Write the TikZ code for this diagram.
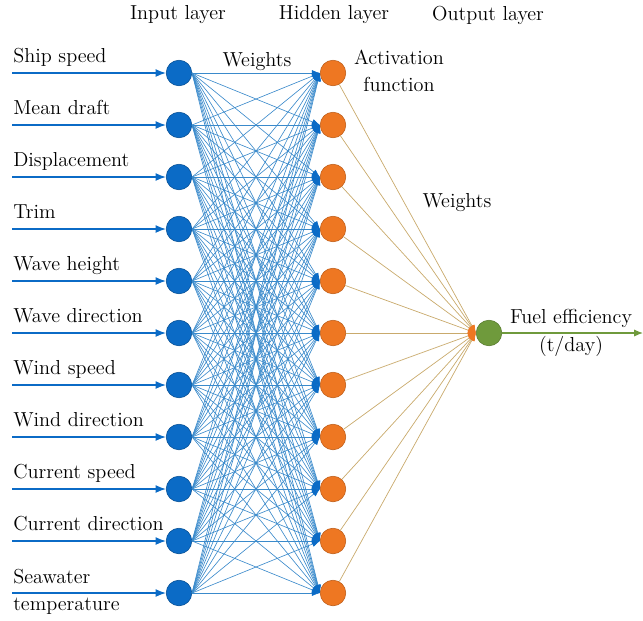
\documentclass[tikz,border=0pt]{standalone}
\usetikzlibrary{arrows.meta}

\definecolor{inblue}{HTML}{0B6BC6}
\definecolor{wblue}{HTML}{3A8ACB}
\definecolor{hidorange}{HTML}{EE7722}
\definecolor{wtan}{HTML}{C9AA6C}
\definecolor{outgreen}{HTML}{6F9A3C}

\begin{document}
\begin{tikzpicture}[x=0.025cm,y=-0.025cm,
    font=\fontsize{14.4}{19.5}\selectfont,
    inunit/.style={circle,fill=inblue,draw=inblue!75!black,minimum size=0.64cm,inner sep=0pt},
    hidunit/.style={circle,fill=hidorange,draw=hidorange!80!black,minimum size=0.64cm,inner sep=0pt},
    outunit/.style={circle,fill=outgreen,draw=outgreen!80!black,minimum size=0.64cm,inner sep=0pt},
    feed/.style={draw=inblue,line width=0.9pt,-{Latex[length=0.26cm,width=0.2cm]}},
    wline/.style={draw=wblue,line width=0.45pt,-{Latex[length=0.2cm,width=0.15cm,color=inblue]}},
    oline/.style={draw=wtan,line width=0.5pt,-{Latex[length=0.2cm,width=0.15cm,color=hidorange]}},
    lbl/.style={anchor=base west,inner sep=0pt}]
    \useasboundingbox (0,0) rectangle (643,620);

    % Layer titles
    \node (hdin) at (178,15) {Input layer};
    \node (hdhid) at (334,15) {Hidden layer};
    \node (hdout) at (488,15) {Output layer};

    % Units
    \foreach \i in {1,...,11} {
        \node[inunit] (in\i) at (179,{73+52*(\i-1)}) {};
        \node[hidunit] (hid\i) at (333,{73+52*(\i-1)}) {};
        \coordinate (src\i) at (12,{73+52*(\i-1)});
    }
    \node[outunit] (out) at (489,333) {};
    \coordinate (sink) at (643,333);

    % Input features
    \node[lbl] (f1) at (13,62) {Ship speed};
    \node[lbl] (f2) at (13,114) {Mean draft};
    \node[lbl] (f3) at (13,166) {Displacement};
    \node[lbl] (f4) at (13,218) {Trim};
    \node[lbl] (f5) at (13,270) {Wave height};
    \node[lbl] (f6) at (13,322) {Wave direction};
    \node[lbl] (f7) at (13,374) {Wind speed};
    \node[lbl] (f8) at (13,426) {Wind direction};
    \node[lbl] (f9) at (13,478) {Current speed};
    \node[lbl] (f10) at (13,530) {Current direction};
    \node[lbl] (f11) at (13,583) {Seawater};
    \node[lbl] (f11b) at (13,610) {temperature};
    \foreach \i in {1,...,11}
        \draw[feed] (src\i) -- (in\i);

    % Weights input -> hidden
    \foreach \i in {1,...,11}
        \foreach \j in {1,...,11}
            \draw[wline] (in\i.east) -- (hid\j.west);

    % Weights hidden -> output
    \foreach \j in {1,...,11}
        \draw[oline] (hid\j) -- (out.west);
    \draw[draw=outgreen,line width=0.9pt,-{Latex[length=0.22cm,width=0.18cm]}] (out) -- (sink);

    % Annotations
    \node (wt1) at (257,62) {Weights};
    \node[align=center] (act) at (399,71) {Activation\\function};
    \node (wt2) at (457,203) {Weights};
    \node[align=center] (res) at (571,333) {Fuel efficiency\\(t/day)};
\end{tikzpicture}
\end{document}
